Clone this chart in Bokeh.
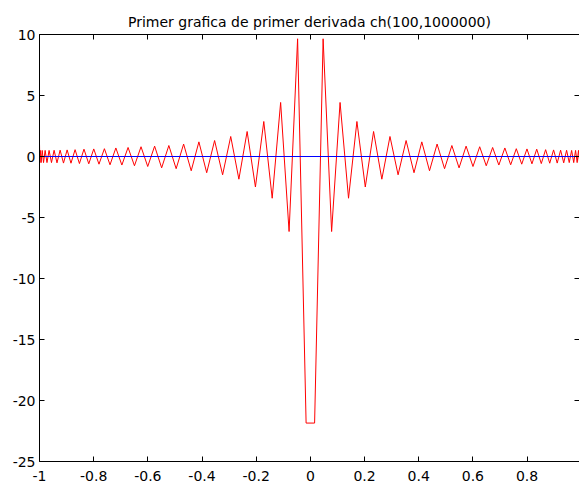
from bokeh.plotting import figure
from bokeh.models import LinearAxis, FixedTicker, Range1d
from bokeh.embed import file_html
from bokeh.resources import INLINE

title_text = "Primer grafica de primer derivada ch(100,1000000)"

x_nodes = [
    -0.9999, -0.9989, -0.9969, -0.9940, -0.9900, -0.9851, -0.9792, -0.9724, -0.9646, -0.9558,
    -0.9461, -0.9354, -0.9239, -0.9114, -0.8980, -0.8838, -0.8686, -0.8526, -0.8358, -0.8181,
    -0.7997, -0.7804, -0.7604, -0.7396, -0.7181, -0.6959, -0.6730, -0.6494, -0.6252, -0.6004,
    -0.5750, -0.5490, -0.5225, -0.4955, -0.4679, -0.4399, -0.4115, -0.3827, -0.3535, -0.3239,
    -0.2940, -0.2639, -0.2334, -0.2028, -0.1719, -0.1409, -0.1097, -0.0785, -0.0471, -0.0157,
    0.0157, 0.0471, 0.0785, 0.1097, 0.1409, 0.1719, 0.2028, 0.2334, 0.2639, 0.2940,
    0.3239, 0.3535, 0.3827, 0.4115, 0.4399, 0.4679, 0.4955, 0.5225, 0.5490, 0.5750,
    0.6004, 0.6252, 0.6494, 0.6730, 0.6959, 0.7181, 0.7396, 0.7604, 0.7804, 0.7997,
    0.8181, 0.8358, 0.8526, 0.8686, 0.8838, 0.8980, 0.9114, 0.9239, 0.9354, 0.9461,
    0.9558, 0.9646, 0.9724, 0.9792, 0.9851, 0.9900, 0.9940, 0.9969, 0.9989, 0.9999,
]

derivative = [
    1.0, -0.5, 0.5, -0.5, 0.5, -0.5, 0.5, -0.5, 0.5, -0.5,
    0.51, -0.52, 0.52, -0.54, 0.54, -0.55, 0.56, -0.58, 0.6, -0.6,
    0.62, -0.63, 0.64, -0.68, 0.7, -0.7, 0.74, -0.76, 0.8, -0.82,
    0.85, -0.93, 0.9, -1.0, 1.02, -1.17, 1.2, -1.33, 1.31, -1.5,
    1.64, -1.86, 2.05, -2.5, 2.87, -3.42, 4.43, -6.15, 9.65, -21.85,
    -21.85, 9.65, -6.15, 4.43, -3.42, 2.87, -2.5, 2.05, -1.86, 1.64,
    -1.5, 1.31, -1.33, 1.2, -1.17, 1.02, -1.0, 0.9, -0.93, 0.85,
    -0.82, 0.8, -0.76, 0.74, -0.7, 0.7, -0.68, 0.64, -0.63, 0.62,
    -0.6, 0.6, -0.58, 0.56, -0.55, 0.54, -0.54, 0.52, -0.52, 0.51,
    -0.5, 0.5, -0.5, 0.5, -0.5, 0.5, -0.5, 0.5, -0.5, 1.0,
]

zero_x = [-1.0, 1.0]
zero_y = [0.0, 0.0]

x_ticks = [-1, -0.8, -0.6, -0.4, -0.2, 0, 0.2, 0.4, 0.6, 0.8, 1]
x_tick_labels = ["-1", "-0.8", "-0.6", "-0.4", "-0.2", "0", "0.2", "0.4", "0.6", "0.8", "1"]
y_ticks = [-25, -20, -15, -10, -5, 0, 5, 10]
y_tick_labels = ["-25", "-20", "-15", "-10", "-5", "0", "5", "10"]

FONT = "DejaVu Sans"
FSIZE = "14px"

p = figure(width=579, height=485, output_backend="svg", toolbar_location=None,
           x_range=Range1d(-1, 0.9937), y_range=Range1d(-25, 10),
           x_axis_type=None, y_axis_type=None,
           min_border_left=39, min_border_right=0, min_border_top=34, min_border_bottom=24,
           title=title_text)
p.outline_line_color = None
p.background_fill_color = "white"
p.border_fill_color = "white"
p.title.text_font = FONT
p.title.text_font_size = FSIZE
p.title.text_font_style = "normal"
p.title.text_color = "black"
p.title.align = "center"
p.title.standoff = 10


def make_axis(cls_ticks, labels, show_labels, show_line=True):
    ax = LinearAxis(ticker=FixedTicker(ticks=cls_ticks))
    ax.major_tick_in = 5
    ax.major_tick_out = 0
    ax.minor_tick_in = 0
    ax.minor_tick_out = 0
    ax.axis_line_color = "black" if show_line else None
    ax.major_tick_line_color = "black"
    ax.major_label_text_font = FONT
    ax.major_label_text_font_size = FSIZE
    ax.major_label_text_color = "black"
    if show_labels:
        ax.major_label_overrides = {t: l for t, l in zip(cls_ticks, labels)}
    else:
        ax.major_label_overrides = {t: "" for t in cls_ticks}
        ax.major_label_standoff = 0
    return ax


bottom = make_axis(x_ticks, x_tick_labels, True)
bottom.major_label_standoff = 9
left = make_axis(y_ticks, y_tick_labels, True)
left.major_label_standoff = 4
top = make_axis(x_ticks, x_tick_labels, False)
top.major_label_standoff = 8
right = make_axis(y_ticks, y_tick_labels, False, show_line=False)

p.add_layout(bottom, "below")
p.add_layout(left, "left")
p.add_layout(top, "above")
p.add_layout(right, "right")

p.line(x_nodes, derivative, line_color="#ff0000", line_width=1)
p.line(zero_x, zero_y, line_color="#0000ff", line_width=1)

open("out.html", "w").write(file_html(p, INLINE))
